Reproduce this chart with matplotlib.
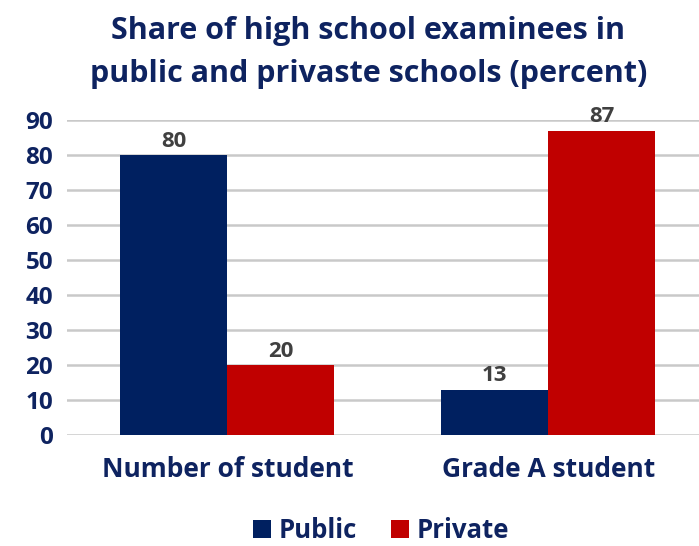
import matplotlib
matplotlib.use("Agg")
import matplotlib.pyplot as plt
import numpy as np

categories = ["Number of student", "Grade A student"]
public = [80, 13]
private = [20, 87]
series_names = ["Public", "Private"]
y_ticks = [0, 10, 20, 30, 40, 50, 60, 70, 80, 90]

navy = "#0E2360"
c_public = "#002060"
c_private = "#C00000"
grid_c = "#C9C9C9"

plt.rcParams["font.family"] = ["Open Sans", "DejaVu Sans"]
plt.rcParams["font.weight"] = "bold"

fig = plt.figure(figsize=(6.99, 5.46), dpi=100)
ax = fig.add_axes([0.0959, 0.2033, 0.904, 0.5769])

x = np.arange(len(categories))
w = 1 / 3
b1 = ax.bar(x - w / 2, public, w, color=c_public, label=series_names[0], zorder=3)
b2 = ax.bar(x + w / 2, private, w, color=c_private, label=series_names[1], zorder=3)

for bars, vals in ((b1, public), (b2, private)):
    for rect, v in zip(bars, vals):
        ax.text(rect.get_x() + rect.get_width() / 2, v + 1.0, f"{v}",
                ha="center", va="bottom", fontsize=16, fontweight="bold",
                color="#404040", zorder=4)

ax.set_xlim(-0.5, 1.47)
ax.set_ylim(0, 90)
ax.set_yticks(y_ticks)
ax.set_xticks(x)
ax.set_xticklabels(categories)
ax.yaxis.grid(True, color=grid_c, linewidth=1.8, zorder=0)
ax.set_axisbelow(True)
for s in ax.spines.values():
    s.set_visible(False)
ax.tick_params(axis="both", length=0)
ax.tick_params(axis="y", labelsize=17.5, labelcolor=navy, pad=10)
ax.tick_params(axis="x", labelsize=19, labelcolor=navy, pad=15)

fig.text(0.527, 0.97, "Share of high school examinees in\npublic and privaste schools (percent)",
         ha="center", va="top", fontsize=22, fontweight="bold", color=navy,
         linespacing=1.55)

leg = fig.legend(handles=[b1, b2], labels=series_names, loc="lower center",
                 bbox_to_anchor=(0.545, -0.038), ncol=2, frameon=False,
                 fontsize=18.5, handlelength=0.7, handleheight=0.7,
                 handletextpad=0.3, columnspacing=1.3)
for t in leg.get_texts():
    t.set_color(navy)
    t.set_fontweight("bold")

fig.savefig("out.png", dpi=100)
